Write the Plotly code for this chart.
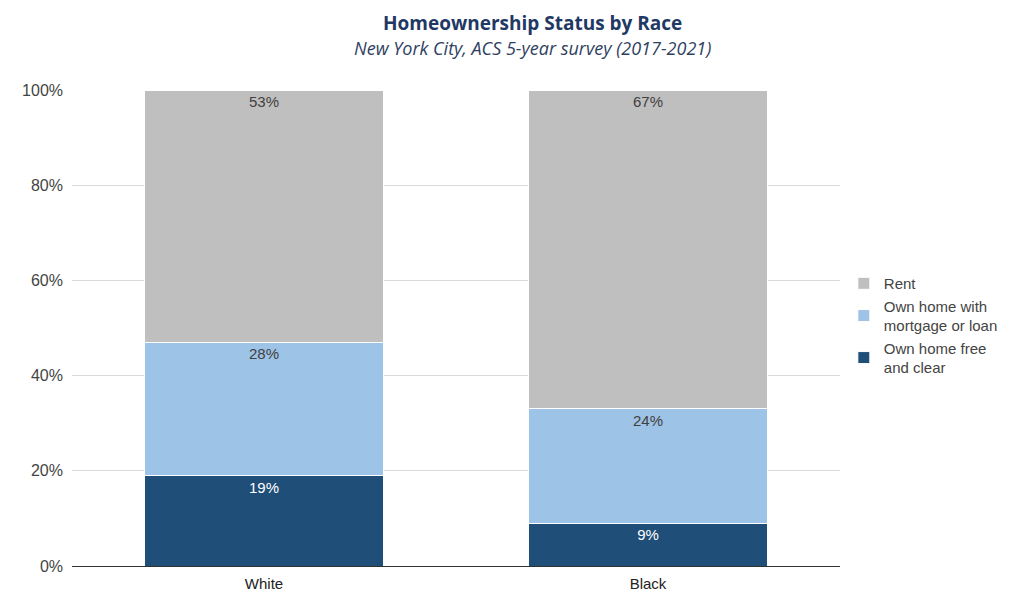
import plotly.graph_objects as go

categories = ["White", "Black"]
free_clear = [19, 9]
mortgage = [28, 24]
rent = [53, 67]

series = [
    ("Own home free<br>and clear", free_clear, "#1f4e79", "#ffffff"),
    ("Own home with<br>mortgage or loan", mortgage, "#9dc3e6", "#404040"),
    ("Rent", rent, "#bfbfbf", "#404040"),
]

fig = go.Figure()
for name, vals, color, tcolor in series:
    fig.add_trace(go.Bar(
        x=categories, y=vals, name=name,
        marker=dict(color=color, line=dict(color="#ffffff", width=1)),
        text=[f"{v}%" for v in vals],
        textposition="inside", insidetextanchor="end",
        textfont=dict(family="Liberation Sans, Arial", size=15, color=tcolor),
        hoverinfo="skip",
    ))

title_text = ("<b>Homeownership Status by Race</b><br>"
              "<span style='font-size:18px;color:#2f3f5f'><i>New York City, ACS 5-year survey (2017-2021)</i></span>")

fig.update_layout(
    barmode="stack",
    bargap=0.38,
    width=1024, height=602,
    margin=dict(l=64, r=192, t=82, b=44),
    paper_bgcolor="#ffffff", plot_bgcolor="#ffffff",
    font=dict(family="Liberation Sans, Arial", size=15, color="#444444"),
    showlegend=True,
    legend=dict(traceorder="reversed", x=1.005, y=0.628, yanchor="top", xanchor="left",
                font=dict(size=15, color="#444444"), itemwidth=30, tracegroupgap=4),
    xaxis=dict(showline=True, linecolor="#333333", linewidth=1, ticks="",
               ticklabelstandoff=4,
               tickfont=dict(size=15, color="#222222")),
    yaxis=dict(range=[0, 100], dtick=20, ticksuffix="%", gridcolor="#d9d9d9",
               zeroline=False, ticklabelstandoff=8,
               tickfont=dict(size=16, color="#444444")),
    annotations=[
        dict(text=title_text, xref="paper", yref="paper",
             x=0.599, y=1, yshift=82, xanchor="center", yanchor="top", showarrow=False,
             align="center",
             font=dict(family="Open Sans", size=19, color="#1f3864")),
    ],
)

fig.write_html("out.html")
